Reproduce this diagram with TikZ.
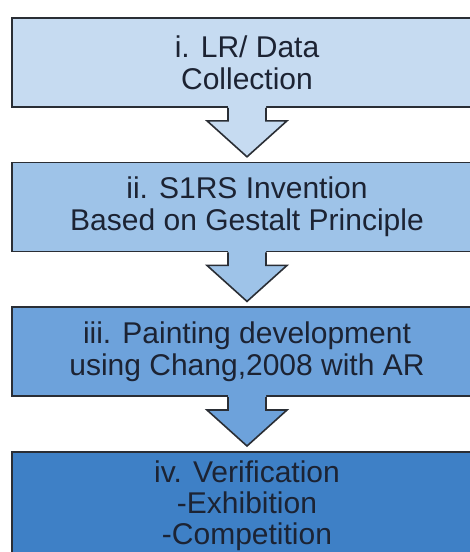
\documentclass[tikz,border=0pt]{standalone}
\usepackage{fontspec}
\setmainfont{Liberation Sans}
\usetikzlibrary{positioning,calc}
\definecolor{stepA}{HTML}{C6DBF1}
\definecolor{stepB}{HTML}{9EC3E8}
\definecolor{stepC}{HTML}{6DA2DB}
\definecolor{stepD}{HTML}{3E80C6}
\definecolor{edge}{HTML}{2A2E35}
\definecolor{ink}{HTML}{1C2333}
\tikzset{
	stage/.style={draw=edge,line width=1.6pt,minimum width=470pt,minimum height=89pt,inner sep=0pt,text=ink,align=center,font=\fontsize{30}{32}\selectfont},
	flow/.style={draw=edge,line width=1.6pt,line join=miter}
}
\begin{document}
\begin{tikzpicture}[node distance=54pt]
		\useasboundingbox(0,0)rectangle(470pt,-552pt);
		\node[stage,fill=stepA](b1)at(247pt,-62.5pt){i. LR/ Data\\Collection};
		\node[stage,fill=stepB,below=of b1](b2){ii. S1RS Invention\\Based on Gestalt Principle};
		\node[stage,fill=stepC,below=of b2](b3){iii. Painting development\\using Chang,2008 with AR};
		\node[stage,fill=stepD,minimum height=107pt,font=\fontsize{30}{31}\selectfont,below=of b3](b4){iv. Verification\\-Exhibition\\-Competition};
		%block arrows between the stages
		\foreach\a/\b/\c in{b1/b2/stepA,b2/b3/stepB,b3/b4/stepC}{
			\coordinate(s)at(\a.south);
			\coordinate(t)at($(\b.north)+(0,5pt)$);
			\fill[\c]($(s)+(-19pt,2pt)$)--($(s)+(-19pt,-13pt)$)--($(s)+(-40pt,-13pt)$)--(t)--($(s)+(40pt,-13pt)$)--($(s)+(19pt,-13pt)$)--($(s)+(19pt,2pt)$)--cycle;
			\draw[flow]($(s)+(-19pt,0)$)--++(0,-13pt)--++(-21pt,0)--(t)--($(s)+(40pt,-13pt)$)--++(-21pt,0)--++(0,13pt);
		}
	\end{tikzpicture}
\end{document}
